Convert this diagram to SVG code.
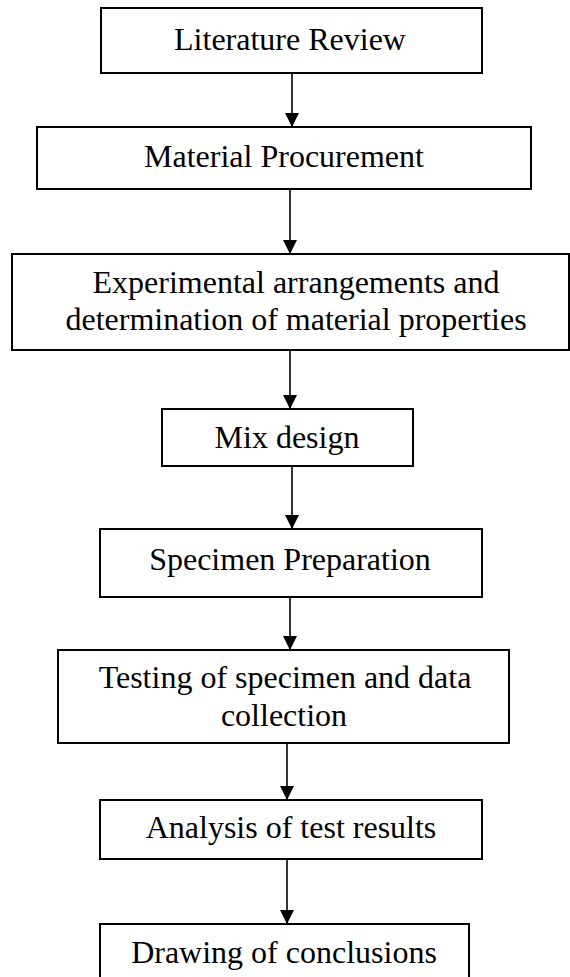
<svg xmlns="http://www.w3.org/2000/svg" width="570" height="977" viewBox="0 0 570 977">
<style>
.box{fill:#fff;stroke:#000;stroke-width:2}
.lbl{font-family:"Liberation Serif","Times New Roman",serif;font-size:32px;fill:#000;text-anchor:middle}
.conn{stroke:#000;stroke-width:1.6;fill:none;marker-end:url(#ah)}
</style>
<defs>
<marker id="ah" markerUnits="userSpaceOnUse" markerWidth="16" markerHeight="14" refX="14" refY="7" orient="auto">
<path d="M0,0 L14,7 L0,14 z" fill="#000"/>
</marker>
</defs>
<rect width="570" height="977" fill="#fff"/>
<g id="connectors">
<line class="conn" x1="292" y1="73" x2="292" y2="127"/>
<line class="conn" x1="290" y1="189" x2="290" y2="254"/>
<line class="conn" x1="290" y1="350" x2="290" y2="409"/>
<line class="conn" x1="292" y1="466" x2="292" y2="529"/>
<line class="conn" x1="290" y1="597" x2="290" y2="650"/>
<line class="conn" x1="287" y1="743" x2="287" y2="800"/>
<line class="conn" x1="287" y1="859" x2="287" y2="924"/>
</g>
<g id="n1"><rect class="box" x="101" y="8" width="381" height="65"/><text class="lbl" x="290" y="50">Literature Review</text></g>
<g id="n2"><rect class="box" x="37" y="127" width="494" height="62"/><text class="lbl" x="284" y="167">Material Procurement</text></g>
<g id="n3"><rect class="box" x="12" y="254" width="557" height="96"/><text class="lbl" x="296" y="293">Experimental arrangements and</text><text class="lbl" x="296" y="330">determination of material properties</text></g>
<g id="n4"><rect class="box" x="162" y="409" width="251" height="57"/><text class="lbl" x="287" y="448">Mix design</text></g>
<g id="n5"><rect class="box" x="100" y="529" width="382" height="68"/><text class="lbl" x="290" y="570">Specimen Preparation</text></g>
<g id="n6"><rect class="box" x="58" y="650" width="451" height="93"/><text class="lbl" x="285" y="688">Testing of specimen and data</text><text class="lbl" x="284" y="726">collection</text></g>
<g id="n7"><rect class="box" x="100" y="800" width="382" height="59"/><text class="lbl" x="291" y="838">Analysis of test results</text></g>
<g id="n8"><rect class="box" x="100" y="924" width="369" height="70"/><text class="lbl" x="284" y="963">Drawing of conclusions</text></g>
</svg>
